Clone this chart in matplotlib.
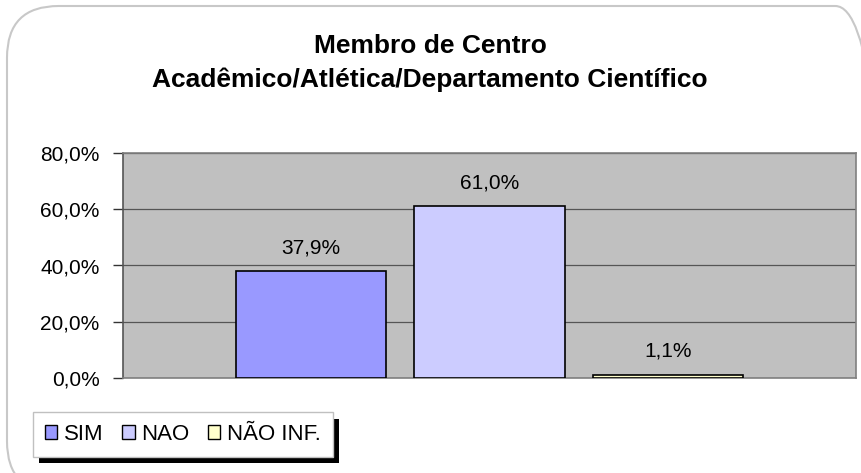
import matplotlib
matplotlib.use("Agg")
import matplotlib.pyplot as plt
from matplotlib.patches import FancyBboxPatch, Rectangle

# data
series = ["SIM", "NAO", "NÃO INF."]
values = [37.9, 61.0, 1.1]
labels = ["37,9%", "61,0%", "1,1%"]
colors = ["#9999FF", "#CCCCFF", "#FFFFCC"]
yticks = [0, 20, 40, 60, 80]
ytick_labels = ["0,0%", "20,0%", "40,0%", "60,0%", "80,0%"]
title = "Membro de Centro\nAcadêmico/Atlética/Departamento Científico"

plt.rcParams["font.family"] = ["Liberation Sans", "DejaVu Sans"]

W, H = 861, 473
fig = plt.figure(figsize=(W / 100, H / 100), dpi=100)

# rounded border of the chart area
border = FancyBboxPatch((7 / W, -20 / H), 880 / W, (H - 6 + 20) / H,
                        boxstyle="round,pad=0,rounding_size=0.06",
                        transform=fig.transFigure, facecolor="none",
                        edgecolor="#c8c8c8", linewidth=1.5, mutation_aspect=W / H, zorder=-1)
fig.patches.append(border)

ax = fig.add_axes([123 / W, 1 - 378 / H, 733 / W, 225 / H])
ax.set_facecolor("#C0C0C0")

x = list(range(len(values)))
ax.bar(x, values, width=0.84, color=colors, edgecolor="black", linewidth=1.2, zorder=3)
for xi, v, lab in zip(x, values, labels):
    ax.text(xi, v + 5, lab, ha="center", va="bottom", fontsize=15)

ax.set_xlim(-1.05, 3.05)
ax.set_ylim(0, 80)
ax.set_yticks(yticks)
ax.set_yticklabels(ytick_labels, fontsize=15)
ax.set_xticks([])
ax.tick_params(axis="y", length=7, width=1, pad=10, color="#333333")
ax.grid(axis="y", color="#555555", linewidth=0.9, zorder=1)
ax.set_axisbelow(True)

for side in ["top", "right", "bottom"]:
    ax.spines[side].set_color("#808080")
    ax.spines[side].set_linewidth(1.2)
ax.spines["left"].set_color("#555555")
ax.spines["left"].set_linewidth(1.2)

fig.text(430 / W, 1 - 63 / H, title, ha="center", va="center",
         fontsize=19, fontweight="bold", linespacing=1.5)

# legend box with shadow
lx0, ly0, lw, lh = 33, 413, 300, 44
fig.patches.append(Rectangle(((lx0 + 6) / W, 1 - (ly0 + lh + 6) / H), lw / W, lh / H,
                             transform=fig.transFigure, facecolor="black", edgecolor="none"))
handles = [Rectangle((0, 0), 1, 1, facecolor=c, edgecolor="black", linewidth=1) for c in colors]
leg = fig.legend(handles, series, loc="lower left",
                 bbox_to_anchor=(lx0 / W, 1 - (ly0 + lh) / H, lw / W, lh / H),
                 mode="expand", ncol=3, fontsize=16, frameon=True, fancybox=False,
                 handlelength=0.55, handleheight=0.55, handletextpad=0.3,
                 columnspacing=0.4, borderpad=0.55, borderaxespad=0, framealpha=1)
leg.get_frame().set_facecolor("white")
leg.get_frame().set_edgecolor("#c0c0c0")
leg.get_frame().set_linewidth(1)

fig.savefig("out.png", dpi=100)
